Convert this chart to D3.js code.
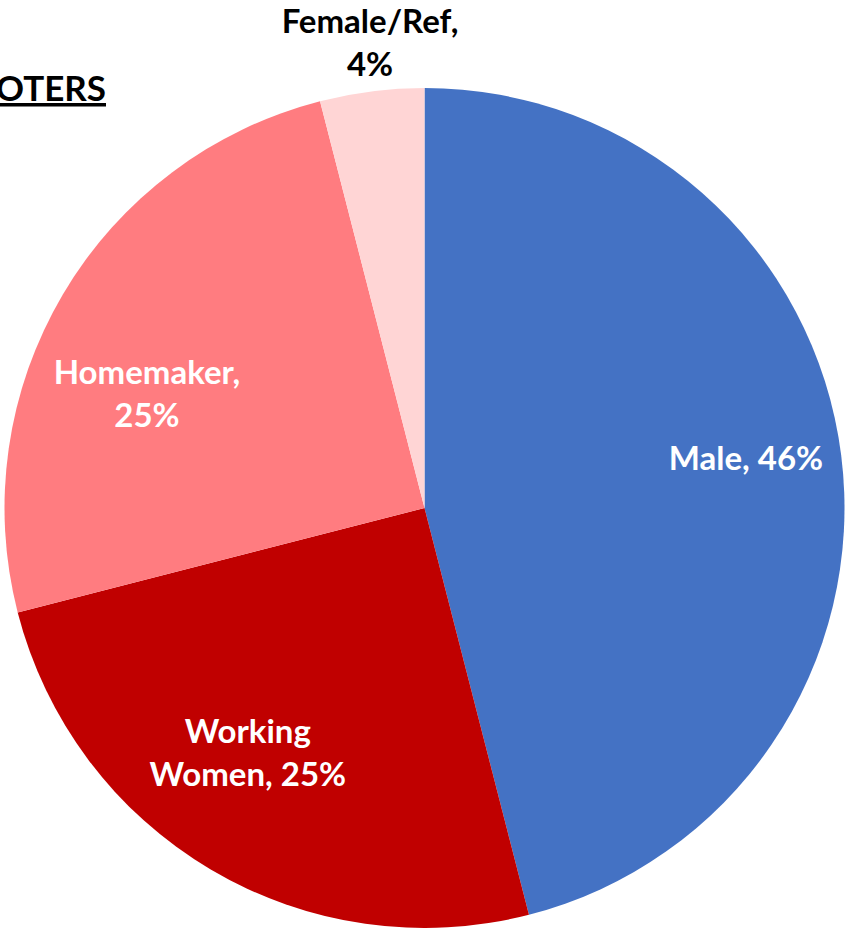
<!DOCTYPE html>
<html><head><meta charset="utf-8">
<script src="https://cdn.jsdelivr.net/npm/d3@7"></script>
<style>body{margin:0;background:#fff;overflow:hidden}</style>
</head><body>
<svg id="c" width="846" height="928"></svg>
<script>
const categories = ["Male", "Working Women", "Homemaker", "Female/Ref"];
const values = [46, 25, 25, 4];
const colors = ["#4472C4", "#C00000", "#FF7C80", "#FFD5D5"];
const labelLines = [["Male, 46%"], ["Working", "Women, 25%"], ["Homemaker,", "25%"], ["Female/Ref,", "4%"]];
const title = "VOTERS";

const svg = d3.select("#c");
const cx = 424.5, cy = 508, R = 420;
const pie = d3.pie().sort(null).value(d => d)(values);
const arc = d3.arc().innerRadius(0).outerRadius(R);
const g = svg.append("g").attr("transform", `translate(${cx},${cy})`);
g.selectAll("path").data(pie).join("path")
  .attr("d", arc).attr("fill", (d, i) => colors[i]);

// label placement (Excel best-fit style)
const labelPos = [
  {r: 325, a: null, dx: -1, dy: -9, fill: "#fff"},
  {r: 302, a: 215.8, fill: "#fff"},
  {r: 300, a: 292.3, fill: "#fff"},
  {r: 0, fixed: [370 - cx, 43 - cy], fill: "#000"}
];
const fontSize = 33, lh = 43;
pie.forEach((d, i) => {
  const p = labelPos[i];
  let x, y;
  if (p.fixed) { [x, y] = p.fixed; }
  else {
    const ang = p.a != null ? p.a * Math.PI / 180 : (d.startAngle + d.endAngle) / 2;
    x = p.r * Math.sin(ang) + (p.dx || 0);
    y = -p.r * Math.cos(ang) + (p.dy || 0);
  }
  const lines = labelLines[i];
  const t = g.append("text").attr("text-anchor", "middle")
    .attr("font-family", "Lato, 'Open Sans', sans-serif").attr("font-weight", "bold")
    .attr("font-size", fontSize).attr("fill", p.fill);
  lines.forEach((ln, k) => {
    t.append("tspan").attr("x", x)
      .attr("y", y + (k - (lines.length - 1) / 2) * lh)
      .attr("dy", "0.35em").text(ln);
  });
});

svg.append("text").attr("x", 106).attr("y", 101).attr("text-anchor", "end")
  .attr("font-family", "Lato, 'Open Sans', sans-serif").attr("font-weight", "bold")
  .attr("font-size", 35).attr("text-decoration", "underline").attr("fill", "#000")
  .text(title);
</script>
</body></html>
